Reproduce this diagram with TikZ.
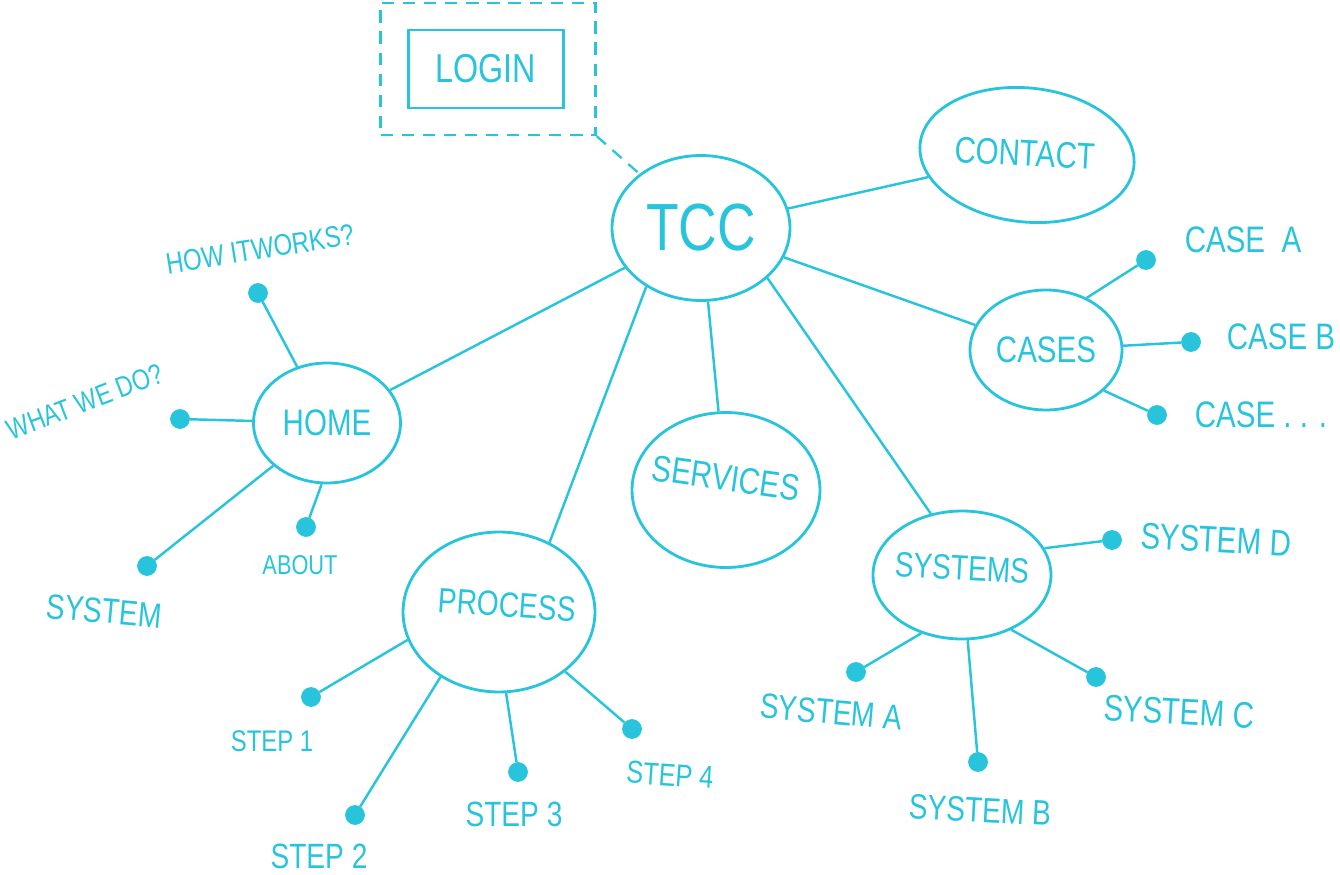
\documentclass[tikz,border=0pt]{standalone}
\usepackage{fontspec}
\setmainfont{Liberation Sans}[FakeStretch=0.8]
\usetikzlibrary{shapes.geometric}
\definecolor{sk}{RGB}{40,196,220}
\newcommand{\fs}[1]{\fontsize{#1}{#1}\selectfont}
\begin{document}
\begin{tikzpicture}[x=0.02cm,y=-0.02cm,
  bubble/.style={ellipse, draw=sk, line width=1.6pt, inner sep=0pt, text=sk},
  dot/.style={circle, fill=sk, draw=sk, inner sep=0pt, minimum size=0.38cm},
  lbl/.style={text=sk, inner sep=0pt, font=\fs{20}},
  link/.style={draw=sk, line width=1.4pt},
  dashedlink/.style={draw=sk, line width=1.3pt, dash pattern=on 7pt off 5pt}]
\useasboundingbox (0,0) rectangle (1340,875);

% main bubbles
\node[bubble, minimum width=3.56cm, minimum height=2.9cm, font=\fs{38}] (tcc) at (701,228) {TCC};
\node[bubble, minimum width=4.3cm, minimum height=2.68cm, rotate=-6] (contact) at (1027,155) {};
\node[text=sk, font=\fs{21}, rotate=-3] (contactt) at (1025,153) {CONTACT};
\node[bubble, minimum width=3.04cm, minimum height=2.4cm, font=\fs{21}] (cases) at (1046,350) {CASES};
\node[bubble, minimum width=2.94cm, minimum height=2.4cm, font=\fs{21}] (home) at (327,423) {HOME};
\node[bubble, minimum width=3.76cm, minimum height=3.1cm] (services) at (726,490) {};
\node[text=sk, font=\fs{21}, rotate=-8] (servicest) at (726,478) {SERVICES};
\node[bubble, minimum width=3.84cm, minimum height=3.2cm] (process) at (499,612) {};
\node[text=sk, font=\fs{20}, rotate=-4] (processt) at (507,605) {PROCESS};
\node[bubble, minimum width=3.56cm, minimum height=2.56cm] (systems) at (962,575) {};
\node[text=sk, font=\fs{20}, rotate=-3] (systemst) at (962,568) {SYSTEMS};

% login
\node[draw=sk, line width=1.6pt, minimum width=3.1cm, minimum height=1.56cm, text=sk, font=\fs{23}] (login) at (486,69) {LOGIN};
\node[draw=sk, line width=1.3pt, dash pattern=on 7pt off 5pt, minimum width=4.3cm, minimum height=2.64cm] (loginarea) at (488,69) {};
\draw[dashedlink] (loginarea.south east) -- (tcc);

% main connectors
\draw[link] (tcc) -- (contact);
\draw[link] (tcc) -- (cases);
\draw[link] (tcc) -- (home);
\draw[link] (tcc) -- (services);
\draw[link] (tcc.227) -- (process.54);
\draw[link] (tcc.323) -- (systems.117);

% home children
\node[dot] (dhow) at (258,293) {};
\node[lbl, font=\fs{17}, rotate=9] (thow) at (260,249) {HOW ITWORKS?};
\node[dot] (dwhat) at (180,419) {};
\node[lbl, font=\fs{16.5}, rotate=21] (twhat) at (85,402) {WHAT WE DO?};
\node[dot] (dsys) at (147,566) {};
\node[lbl, rotate=-5] (tsys) at (104,611) {SYSTEM};
\node[dot] (dabout) at (306,527) {};
\node[lbl, font=\fs{15.5}] (tabout) at (300,565) {ABOUT};
\draw[link] (home) -- (dhow);
\draw[link] (home) -- (dwhat);
\draw[link] (home) -- (dsys);
\draw[link] (home.265) -- (dabout);

% process children
\node[dot] (ds1) at (311,697) {};
\node[lbl, font=\fs{17}] (ts1) at (272,741) {STEP 1};
\node[dot] (ds2) at (355,815) {};
\node[lbl] (ts2) at (319,856) {STEP 2};
\node[dot] (ds3) at (518,772) {};
\node[lbl] (ts3) at (514,814) {STEP 3};
\node[dot] (ds4) at (632,729) {};
\node[lbl, font=\fs{18}, rotate=-4] (ts4) at (670,775) {STEP 4};
\draw[link] (process.197) -- (ds1);
\draw[link] (process.228) -- (ds2);
\draw[link] (process.275) -- (ds3);
\draw[link] (process.318) -- (ds4);

% systems children
\node[dot] (dsa) at (856,672) {};
\node[lbl, rotate=-5] (tsa) at (831,712) {SYSTEM A};
\node[dot] (dsb) at (978,762) {};
\node[lbl, rotate=-3] (tsb) at (980,810) {SYSTEM B};
\node[dot] (dsc) at (1096,677) {};
\node[lbl, font=\fs{21}, rotate=-3] (tsc) at (1179,712) {SYSTEM C};
\node[dot] (dsd) at (1112,540) {};
\node[lbl, font=\fs{21}, rotate=-3] (tsd) at (1216,540) {SYSTEM D};
\draw[link] (systems.235) -- (dsa);
\draw[link] (systems.275) -- (dsb);
\draw[link] (systems.312) -- (dsc);
\draw[link] (systems.18) -- (dsd);

% cases children
\node[dot] (dca) at (1146,260) {};
\node[lbl, font=\fs{21}] (tca) at (1243,240) {CASE\ \ A};
\node[dot] (dcb) at (1191,342) {};
\node[lbl, font=\fs{21}] (tcb) at (1281,337) {CASE B};
\node[dot] (dcc) at (1157,415) {};
\node[lbl, font=\fs{21}] (tcc2) at (1261,415) {CASE . . .};
\draw[link] (cases.52) -- (dca);
\draw[link] (cases) -- (dcb);
\draw[link] (cases.325) -- (dcc);
\end{tikzpicture}
\end{document}
